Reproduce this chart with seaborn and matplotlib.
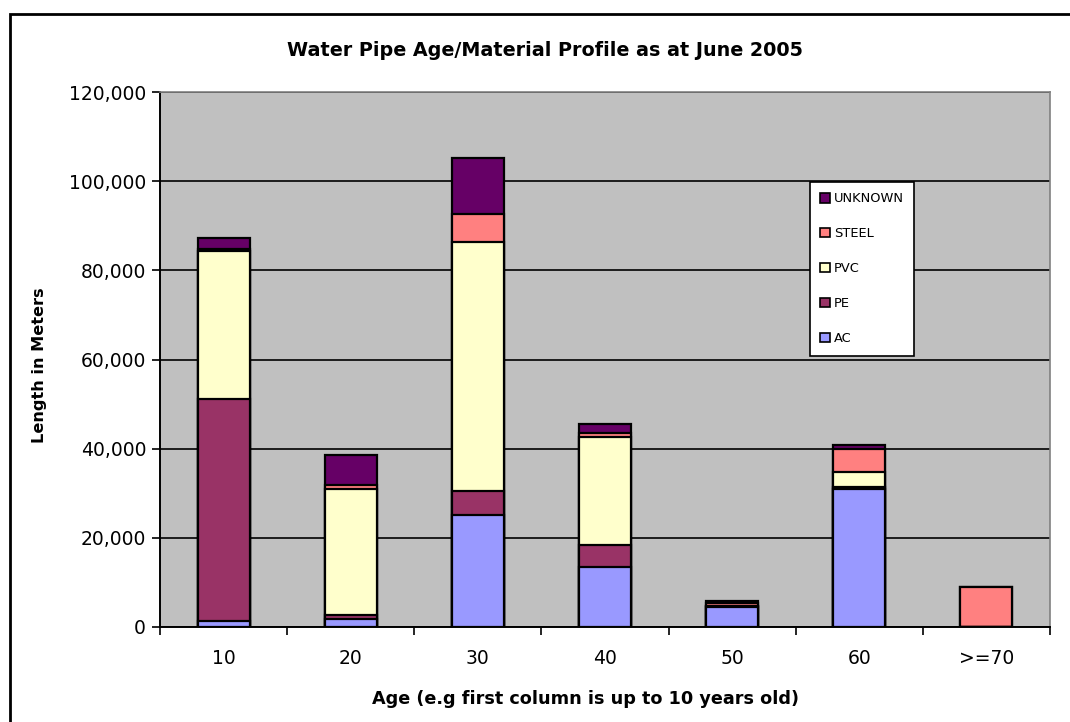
import matplotlib
matplotlib.use("Agg")
import matplotlib.pyplot as plt
from matplotlib.patches import Patch, Rectangle
from matplotlib.ticker import FuncFormatter, FixedLocator
import numpy as np
import pandas as pd
import seaborn as sns

# Pipe length (m) by age band and material
ages = ["10", "20", "30", "40", "50", "60", ">=70"]
ac = [1300, 1800, 25100, 13500, 4500, 30900, 0]
pe = [49800, 1000, 5400, 4900, 200, 500, 0]
pvc = [33200, 28200, 55900, 24200, 0, 3300, 0]
steel = [500, 800, 6200, 900, 700, 5200, 9000]
unknown = [2400, 6800, 12600, 2000, 500, 1000, 0]

materials = ["AC", "PE", "PVC", "STEEL", "UNKNOWN"]
colors = {"AC": "#9999FF", "PE": "#993366", "PVC": "#FFFFCC",
          "STEEL": "#FF8080", "UNKNOWN": "#660066"}

sns.set_theme(style="white")
plt.rcParams["font.family"] = ["DejaVu Sans"]
plt.rcParams["text.color"] = "black"
plt.rcParams["axes.labelcolor"] = "black"
plt.rcParams["xtick.color"] = "black"
plt.rcParams["ytick.color"] = "black"

df = pd.DataFrame({"Age": ages, "AC": ac, "PE": pe, "PVC": pvc,
                   "STEEL": steel, "UNKNOWN": unknown})
cum = df[materials].cumsum(axis=1)

fig = plt.figure(figsize=(10.7, 7.22), dpi=100)
ax = fig.add_axes([160 / 1070, 1 - 627 / 722, 890 / 1070, 535 / 722])
ax.set_facecolor("#C0C0C0")

# Stacked bars: draw cumulative totals from the top layer down
for m in reversed(materials):
    sns.barplot(x=df["Age"], y=cum[m], color=colors[m], saturation=1,
                width=0.41, edgecolor="black", linewidth=1.6, ax=ax, zorder=3)

ax.set_ylim(0, 120000)
ax.set_xlim(-0.5, len(ages) - 0.5)
ax.set_yticks(np.arange(0, 120001, 20000))
ax.yaxis.set_major_formatter(FuncFormatter(lambda v, p: f"{int(v):,}"))
ax.grid(axis="y", color="black", linewidth=1.2, zorder=1)
ax.set_axisbelow(True)

# category tick marks sit on the boundaries between groups
ax.xaxis.set_minor_locator(FixedLocator(np.arange(-0.5, len(ages), 1.0)))
ax.tick_params(axis="x", which="major", length=0, labelsize=13.5, pad=16)
ax.tick_params(axis="x", which="minor", length=6, width=1.2, color="black",
               direction="out", bottom=True)
ax.tick_params(axis="y", length=6, width=1.2, color="black", direction="out",
               left=True, labelsize=13.5, pad=4)

for side in ["top", "right"]:
    ax.spines[side].set_color("#808080")
    ax.spines[side].set_linewidth(1.2)
for side in ["left", "bottom"]:
    ax.spines[side].set_color("black")
    ax.spines[side].set_linewidth(1.4)

ax.set_xlabel("Age (e.g first column is up to 10 years old)", fontsize=12.7,
              fontweight="bold")
ax.set_ylabel("Length in Meters", fontsize=11.6, fontweight="bold")
ax.xaxis.set_label_coords(425 / 890, -72 / 535)
ax.xaxis.label.set_va("center")
ax.yaxis.set_label_coords(-120 / 890, 262 / 535)
ax.yaxis.label.set_va("center")

fig.text(545 / 1070, 1 - 50 / 722,
         "Water Pipe Age/Material Profile as at June 2005", fontsize=13.75,
         fontweight="bold", ha="center", va="center")

handles = [Patch(facecolor=colors[m], edgecolor="black", linewidth=1.2, label=m)
           for m in reversed(materials)]
leg = ax.legend(handles=handles, loc="upper left",
                bbox_to_anchor=(0.730, 0.832), fontsize=9.4, frameon=True,
                fancybox=False, framealpha=1, edgecolor="black",
                handlelength=0.75, handleheight=0.75, handletextpad=0.3,
                labelspacing=1.68, borderpad=0.8, borderaxespad=0)
leg.get_frame().set_linewidth(1.2)
leg.set_zorder(5)

# chart-area border (right and bottom edges run past the canvas)
fig.patches.append(Rectangle((10 / 1070, -0.05), 1.2, 0.05 + 708 / 722,
                             transform=fig.transFigure, fill=False,
                             edgecolor="black", linewidth=2))

fig.savefig("out.png", dpi=100, facecolor="white")
